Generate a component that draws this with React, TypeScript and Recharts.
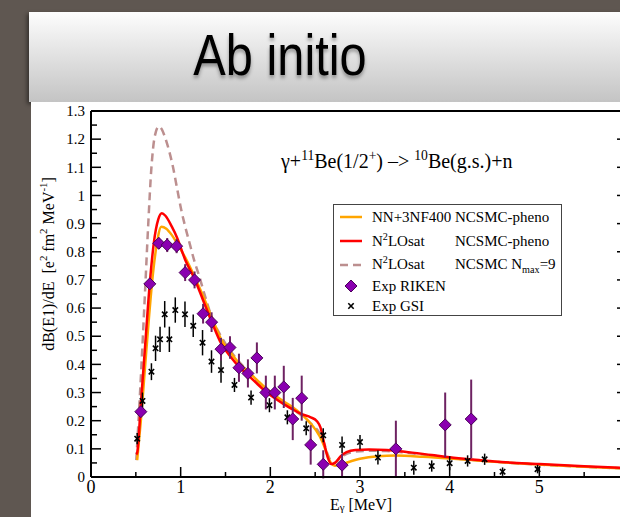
import React from "react";
import { ComposedChart, Line, Scatter, ErrorBar, XAxis, YAxis, Legend } from "recharts";

// axis ticks; labels only on whole MeV / every 0.1
const energyTicks = [0, 0.5, 1, 1.5, 2, 2.5, 3, 3.5, 4, 4.5, 5, 5.5, 6];
const energyLabels = [0, 1, 2, 3, 4, 5];
const strengthTicks = [
  0, 0.05, 0.1, 0.15, 0.2, 0.25, 0.3, 0.35, 0.4, 0.45, 0.5, 0.55, 0.6, 0.65, 0.7,
  0.75, 0.8, 0.85, 0.9, 0.95, 1, 1.05, 1.1, 1.15, 1.2, 1.25, 1.3,
];

// theory curves, [E (MeV), dB/dE]
const nn3nfPheno: number[][] = [
  [0.515, 0.06], [0.556, 0.2], [0.6, 0.38], [0.65, 0.58], [0.69, 0.72], [0.73, 0.82],
  [0.785, 0.889], [0.84, 0.882], [0.9, 0.86], [0.96, 0.83], [1.05, 0.78], [1.15, 0.715],
  [1.25, 0.643], [1.35, 0.565], [1.45, 0.49], [1.55, 0.445], [1.65, 0.405], [1.75, 0.375],
  [1.85, 0.345], [1.95, 0.315], [2.05, 0.29], [2.15, 0.268], [2.25, 0.248], [2.35, 0.222],
  [2.45, 0.19], [2.55, 0.145], [2.6, 0.11], [2.64, 0.075], [2.68, 0.048], [2.72, 0.04],
  [2.8, 0.046], [2.9, 0.056], [3.0, 0.065], [3.2, 0.074], [3.4, 0.076], [3.7, 0.072],
  [4.0, 0.066], [4.25, 0.06], [4.5, 0.054], [5.0, 0.044], [5.5, 0.036], [5.9, 0.031],
];

const n2loPheno: number[][] = [
  [0.505, 0.08], [0.515, 0.086], [0.556, 0.26], [0.6, 0.45], [0.656, 0.69], [0.7, 0.83],
  [0.75, 0.915], [0.79, 0.937], [0.83, 0.928], [0.9, 0.89], [0.96, 0.85], [1.05, 0.772],
  [1.16, 0.7], [1.25, 0.628], [1.35, 0.548], [1.45, 0.475], [1.55, 0.43], [1.65, 0.392],
  [1.75, 0.362], [1.85, 0.332], [1.95, 0.303], [2.05, 0.28], [2.15, 0.259], [2.25, 0.24],
  [2.35, 0.223], [2.45, 0.212], [2.52, 0.198], [2.56, 0.175], [2.6, 0.12], [2.64, 0.07],
  [2.68, 0.046], [2.72, 0.05], [2.78, 0.072], [2.85, 0.088], [2.95, 0.096], [3.1, 0.098],
  [3.3, 0.096], [3.5, 0.09], [3.8, 0.078], [4.0, 0.07], [4.25, 0.062], [4.5, 0.055],
  [5.0, 0.046], [5.5, 0.038], [5.9, 0.033],
];

const n2loNmax9: number[][] = [
  [0.505, 0.06], [0.53, 0.2], [0.56, 0.38], [0.6, 0.64], [0.637, 0.889], [0.674, 1.1],
  [0.711, 1.21], [0.756, 1.245], [0.79, 1.235], [0.822, 1.21], [0.87, 1.16], [0.915, 1.1],
  [0.96, 1.025], [1.007, 0.948], [1.05, 0.89], [1.1, 0.83], [1.15, 0.77], [1.21, 0.71],
  [1.26, 0.655], [1.35, 0.565], [1.45, 0.5], [1.55, 0.45], [1.65, 0.41], [1.75, 0.375],
  [1.85, 0.34], [1.95, 0.31], [2.05, 0.285], [2.15, 0.262], [2.25, 0.24], [2.35, 0.218],
  [2.45, 0.19], [2.55, 0.155], [2.6, 0.12], [2.64, 0.08], [2.68, 0.055], [2.72, 0.05],
  [2.78, 0.068], [2.85, 0.082], [2.95, 0.09], [3.1, 0.093], [3.3, 0.092], [3.5, 0.087],
  [3.8, 0.076], [4.0, 0.068], [4.5, 0.054], [5.0, 0.044], [5.5, 0.036], [5.9, 0.031],
];

// experiments, [E, dB/dE, error]
const rikenPoints: number[][] = [
  [0.556, 0.232, 0.02], [0.656, 0.686, 0.015], [0.756, 0.83, 0.02], [0.85, 0.824, 0.025],
  [0.955, 0.82, 0.025], [1.05, 0.726, 0.03], [1.155, 0.7, 0.03], [1.25, 0.58, 0.035],
  [1.345, 0.55, 0.035], [1.45, 0.454, 0.04], [1.55, 0.46, 0.04], [1.65, 0.388, 0.05],
  [1.75, 0.368, 0.05], [1.85, 0.423, 0.055], [1.95, 0.3, 0.06], [2.05, 0.3, 0.06],
  [2.15, 0.32, 0.075], [2.25, 0.206, 0.075], [2.35, 0.28, 0.08], [2.45, 0.114, 0.07],
  [2.59, 0.045, 0.05], [2.8, 0.042, 0.04], [3.4, 0.1, 0.1], [3.95, 0.185, 0.115],
  [4.24, 0.206, 0.14],
];

const gsiPoints: number[][] = [
  [0.515, 0.136, 0.02], [0.574, 0.27, 0.03], [0.674, 0.374, 0.03], [0.72, 0.457, 0.045],
  [0.77, 0.489, 0.045], [0.822, 0.578, 0.047], [0.874, 0.489, 0.045], [0.94, 0.593, 0.045],
  [1.048, 0.578, 0.045], [1.14, 0.537, 0.04], [1.244, 0.477, 0.045], [1.344, 0.41, 0.04],
  [1.45, 0.38, 0.045], [1.6, 0.327, 0.025], [1.785, 0.282, 0.025], [1.99, 0.255, 0.025],
  [2.19, 0.212, 0.025], [2.4, 0.173, 0.025], [2.59, 0.148, 0.025], [2.8, 0.114, 0.03],
  [3.0, 0.124, 0.025], [3.2, 0.069, 0.025], [3.4, 0.1, 0.03], [3.6, 0.033, 0.025],
  [3.8, 0.039, 0.02], [4.0, 0.049, 0.025], [4.2, 0.057, 0.02], [4.39, 0.063, 0.02],
  [4.59, 0.019, 0.015], [4.98, 0.028, 0.015],
];

const legendModels = ["NN+3NF400", "N^{2}LOsat", "N^{2}LOsat", "Exp RIKEN", "Exp GSI"];
const legendMethods = ["NCSMC-pheno", "NCSMC-pheno", "NCSMC N_{max}=9", "", ""];

const ORANGE = "#ffa500";
const RED = "#ff0000";
const ROSY = "#bc8f8f";
const PURPLE = "#8a00b0";
const SERIF = "'Liberation Serif', 'Times New Roman', serif";

const toCurve = (pts: number[][]) => pts.map(([e, v]) => ({ e, v }));
const toPoints = (pts: number[][]) => pts.map(([e, v, err]) => ({ e, v, err }));

// turns ^{..} and _{..} into raised / lowered spans
const rich = (s: string, subDrop = 0.42) =>
  s.split(/(\^\{[^}]*\}|_\{[^}]*\})/).map((part, i) => {
    if (part.startsWith("^{"))
      return (
        <span key={i} style={{ fontSize: "0.68em", position: "relative", top: "-0.62em" }}>
          {part.slice(2, -1)}
        </span>
      );
    if (part.startsWith("_{"))
      return (
        <span key={i} style={{ fontSize: "0.68em", position: "relative", top: `${subDrop}em` }}>
          {part.slice(2, -1)}
        </span>
      );
    return <React.Fragment key={i}>{part}</React.Fragment>;
  });

const onStep = (v: number, step: number) => Math.abs(v / step - Math.round(v / step)) < 1e-6;

const BottomTick = ({ x, y, payload }: any) => {
  const major = onStep(payload.value, 1);
  return (
    <g>
      <line x1={x} y1={y} x2={x} y2={y - (major ? 10 : 5)} stroke="#000" strokeWidth={1.5} />
      {energyLabels.includes(payload.value) && (
        <text x={x} y={y + 16} textAnchor="middle" fontSize={18} fontFamily={SERIF} fill="#000">
          {payload.value}
        </text>
      )}
    </g>
  );
};

const TopTick = ({ x, y, payload }: any) => {
  const major = onStep(payload.value, 1);
  return <line x1={x} y1={y} x2={x} y2={y + (major ? 9 : 5)} stroke="#000" strokeWidth={1.5} />;
};

const LeftTick = ({ x, y, payload }: any) => {
  const major = onStep(payload.value, 0.1);
  return (
    <g>
      <line x1={x} y1={y} x2={x + (major ? 10 : 6)} y2={y} stroke="#000" strokeWidth={1.5} />
      {major && (
        <text x={x - 6} y={y} dy="0.35em" textAnchor="end" fontSize={15} fontFamily={SERIF} fill="#000">
          {String(Math.round(payload.value * 10) / 10)}
        </text>
      )}
    </g>
  );
};

const RightTick = ({ x, y, payload }: any) => {
  const major = onStep(payload.value, 0.1);
  return <line x1={x} y1={y} x2={x - (major ? 12 : 6)} y2={y} stroke="#000" strokeWidth={1.5} />;
};

const Diamond = ({ cx, cy }: any) => {
  if (cx == null || cy == null) return null;
  const r = 6;
  return (
    <polygon
      points={`${cx},${cy - r} ${cx + r},${cy} ${cx},${cy + r} ${cx - r},${cy}`}
      fill={PURPLE}
      stroke="#4a0058"
      strokeWidth={1}
    />
  );
};

const Cross = ({ cx, cy }: any) => {
  if (cx == null || cy == null) return null;
  const r = 2.7;
  return (
    <g stroke="#000" strokeWidth={1.6}>
      <line x1={cx - r} y1={cy - r} x2={cx + r} y2={cy + r} />
      <line x1={cx - r} y1={cy + r} x2={cx + r} y2={cy - r} />
    </g>
  );
};

const legendSymbol = (i: number) => {
  if (i < 3) {
    const color = [ORANGE, RED, ROSY][i];
    return (
      <svg width={24} height={6}>
        <line x1={1} y1={3} x2={23} y2={3} stroke={color} strokeWidth={2.5} strokeDasharray={i === 2 ? "8 5" : undefined} />
      </svg>
    );
  }
  return (
    <svg width={24} height={12}>
      {i === 3 ? <Diamond cx={12} cy={6} /> : <Cross cx={12} cy={6} />}
    </svg>
  );
};

const rowHeights = [24, 24, 23, 20, 20];

const LegendBox = () => (
  <div
    style={{
      border: "1.5px solid #444",
      background: "#fff",
      fontFamily: SERIF,
      fontSize: 15,
      color: "#000",
      width: 229,
      height: 112,
      boxSizing: "border-box",
    }}
  >
    {legendModels.map((m, i) => (
      <div key={i} style={{ position: "relative", height: rowHeights[i], whiteSpace: "pre" }}>
        <div style={{ position: "absolute", left: 5, top: rowHeights[i] / 2 - (i < 3 ? 3 : 6), lineHeight: 0 }}>
          {legendSymbol(i)}
        </div>
        <div style={{ position: "absolute", left: 38, top: 0, lineHeight: `${rowHeights[i]}px` }}>{rich(m)}</div>
        <div style={{ position: "absolute", left: 121, top: 0, lineHeight: `${rowHeights[i]}px` }}>
          {rich(legendMethods[i])}
        </div>
      </div>
    ))}
  </div>
);

export default function App() {
  return (
    <div
      style={{
        position: "fixed",
        left: 0,
        top: 0,
        width: 620,
        height: 517,
        overflow: "hidden",
        background: "#5f5751",
      }}
    >
      <div
        style={{
          position: "absolute",
          left: 29,
          top: 12,
          width: 640,
          height: 90,
          background: "linear-gradient(#fdfdfd, #c4c4c4)",
          boxShadow: "-2px 2px 4px rgba(0,0,0,0.45)",
        }}
      >
        <div
          style={{
            position: "absolute",
            left: 251,
            top: 14,
            fontFamily: "'Liberation Sans', Arial, sans-serif",
            fontSize: 58,
            lineHeight: "58px",
            whiteSpace: "nowrap",
            color: "#000",
            transform: "translateX(-50%) scaleX(0.84)",
            textShadow: "0 3px 4px rgba(0,0,0,0.35)",
          }}
        >
          Ab initio
        </div>
      </div>
      <div style={{ position: "absolute", left: 31, top: 102, width: 640, height: 415, background: "#fff" }} />

      <div style={{ position: "absolute", left: 0, top: 0 }}>
        <ComposedChart width={660} height={517} margin={{ top: 110, right: 30, bottom: 39, left: 90 }}>
          <XAxis
            type="number"
            dataKey="e"
            domain={[0, 6]}
            allowDataOverflow
            ticks={energyTicks}
            interval={0}
            height={1}
            tickSize={0}
            tickMargin={0}
            tickLine={false}
            tick={(p: any) => <BottomTick {...p} />}
            axisLine={{ stroke: "#000", strokeWidth: 2 }}
          />
          <XAxis
            xAxisId="top"
            orientation="top"
            type="number"
            domain={[0, 6]}
            allowDataOverflow
            ticks={energyTicks}
            interval={0}
            height={1}
            tickSize={0}
            tickMargin={0}
            tickLine={false}
            tick={(p: any) => <TopTick {...p} />}
            axisLine={{ stroke: "#000", strokeWidth: 2 }}
          />
          <YAxis
            type="number"
            domain={[0, 1.3]}
            allowDataOverflow
            ticks={strengthTicks}
            interval={0}
            width={1}
            tickSize={0}
            tickMargin={0}
            tickLine={false}
            tick={(p: any) => <LeftTick {...p} />}
            axisLine={{ stroke: "#000", strokeWidth: 2 }}
          />
          <YAxis
            yAxisId="right"
            orientation="right"
            type="number"
            domain={[0, 1.3]}
            allowDataOverflow
            ticks={strengthTicks}
            interval={0}
            width={1}
            tickSize={0}
            tickMargin={0}
            tickLine={false}
            tick={(p: any) => <RightTick {...p} />}
            axisLine={{ stroke: "#000", strokeWidth: 2 }}
          />

          <Line data={toCurve(n2loNmax9)} dataKey="v" type="monotone" stroke={ROSY} strokeWidth={2.5} strokeDasharray="8 5" dot={false} isAnimationActive={false} />
          <Line data={toCurve(nn3nfPheno)} dataKey="v" type="monotone" stroke={ORANGE} strokeWidth={2.5} dot={false} isAnimationActive={false} />
          <Line data={toCurve(n2loPheno)} dataKey="v" type="monotone" stroke={RED} strokeWidth={2.5} dot={false} isAnimationActive={false} />

          <Scatter data={toPoints(gsiPoints)} dataKey="v" shape={(p: any) => <Cross {...p} />} isAnimationActive={false}>
            <ErrorBar dataKey="err" direction="y" width={0} stroke="#000" strokeWidth={1.5} />
          </Scatter>
          <Scatter data={toPoints(rikenPoints)} dataKey="v" shape={(p: any) => <Diamond {...p} />} isAnimationActive={false}>
            <ErrorBar dataKey="err" direction="y" width={0} stroke="#6e2262" strokeWidth={2} />
          </Scatter>

          <Legend
            layout="vertical"
            align="center"
            verticalAlign="middle"
            wrapperStyle={{ left: 333, top: 204, width: 229 }}
            content={() => <LegendBox />}
          />
        </ComposedChart>
      </div>

      <div
        style={{
          position: "absolute",
          left: 281,
          top: 151,
          fontFamily: SERIF,
          fontSize: 20,
          lineHeight: "20px",
          whiteSpace: "pre",
          color: "#000",
        }}
      >
        {rich("γ+^{11}Be(1/2^{+}) –> ^{10}Be(g.s.)+n")}
      </div>

      <div
        style={{
          position: "absolute",
          left: 49,
          top: 264,
          fontFamily: SERIF,
          fontSize: 16,
          lineHeight: "16px",
          whiteSpace: "pre",
          color: "#000",
          transform: "translate(-50%, -50%) rotate(-90deg)",
        }}
      >
        {rich("dB(E1)/dE  [e^{2} fm^{2} MeV^{-1}]")}
      </div>

      <div
        style={{
          position: "absolute",
          left: 361,
          top: 497,
          fontFamily: SERIF,
          fontSize: 16,
          lineHeight: "16px",
          whiteSpace: "pre",
          color: "#000",
          transform: "translateX(-50%)",
        }}
      >
        {rich("E_{γ} [MeV]", 0.12)}
      </div>
    </div>
  );
}
